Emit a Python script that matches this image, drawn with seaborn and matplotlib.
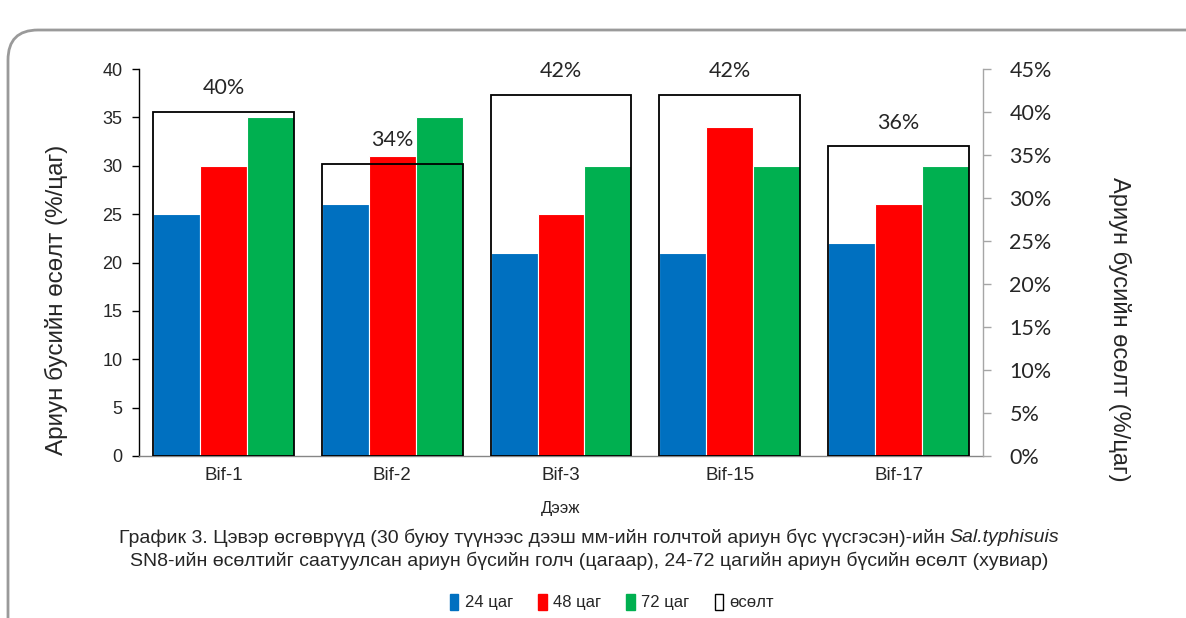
import matplotlib
matplotlib.use("Agg")
import matplotlib.pyplot as plt
from matplotlib.patches import FancyBboxPatch, Patch
from matplotlib.ticker import FuncFormatter, MultipleLocator
import seaborn as sns
import pandas as pd

# Samples and zone measurements
categories = ["Bif-1", "Bif-2", "Bif-3", "Bif-15", "Bif-17"]
series_names = ["24 цаг", "48 цаг", "72 цаг"]
zone_24h = [25, 26, 21, 21, 22]
zone_48h = [30, 31, 25, 34, 26]
zone_72h = [35, 35, 30, 30, 30]
growth_pct = [40, 34, 42, 42, 36]
growth_name = "өсөлт"
colors = ["#0070C0", "#FF0000", "#00B050"]

sns.set_theme(style="white")
plt.rcParams["font.family"] = ["Liberation Sans", "DejaVu Sans"]

df = pd.DataFrame({
    "sample": categories * 3,
    "series": sum([[s] * len(categories) for s in series_names], []),
    "value": zone_24h + zone_48h + zone_72h,
})
gdf = pd.DataFrame({"sample": categories, "growth": growth_pct})

W, H = 1186, 618
fig = plt.figure(figsize=(W / 100, H / 100), dpi=100)
fig.patch.set_facecolor("white")

# rounded frame around the whole chart (pixel coordinates)
frame = FancyBboxPatch((8, -100), W + 200, H - 30 + 100,
                       boxstyle="round,pad=0,rounding_size=30",
                       transform=None, fill=False,
                       edgecolor="#9A9A9A", linewidth=2)
fig.add_artist(frame)

ax = fig.add_axes([139 / W, 1 - 456 / H, (983 - 139) / W, (456 - 69) / H])
width = 0.834
sns.barplot(data=df, x="sample", y="value", hue="series", order=categories,
            hue_order=series_names, palette=colors, width=width, gap=0,
            edgecolor="white", linewidth=0.8, saturation=1, ax=ax, legend=False)
ax.set_ylim(0, 40)
ax.set_xlim(-0.5, len(categories) - 0.5)
ax.yaxis.set_major_locator(MultipleLocator(5))
ax.set_xlabel("Дээж", fontsize=12)
ax.xaxis.set_label_coords(0.5, -(508 - 456) / (456 - 69))
ax.xaxis.label.set_verticalalignment("center")
ax.set_ylabel("Ариун бусийн өсөлт (%/цаг)", fontsize=17.5)
ax.yaxis.set_label_coords((68 - 139) / 844, (456 - 300) / 387)
ax.tick_params(axis="y", which="major", direction="out", length=5, width=1,
               color="black", labelsize=13, left=True, pad=7)
ax.tick_params(axis="x", length=0, labelsize=13.5, pad=8)
for s in ["top", "right"]:
    ax.spines[s].set_visible(False)
ax.spines["left"].set_color("black")
ax.spines["left"].set_linewidth(1)
ax.spines["bottom"].set_color("#868686")
ax.spines["bottom"].set_linewidth(1)

ax2 = ax.twinx()
sns.barplot(data=gdf, x="sample", y="growth", order=categories, width=width,
            fill=False, color="black", linewidth=1.3, ax=ax2)
for p in ax2.patches:
    p.set_edgecolor("black")
    p.set_facecolor("none")
ax2.set_ylim(0, 45)
ax2.yaxis.set_major_locator(MultipleLocator(5))
ax2.yaxis.set_major_formatter(FuncFormatter(lambda v, _: f"{v:.0f}%"))
ax2.set_ylabel("Ариун бусийн өсөлт (%/цаг)", fontsize=17, rotation=270)
ax2.yaxis.set_label_coords((1131 - 139) / 844, (456 - 329) / 387)
ax2.tick_params(axis="y", direction="out", length=6, width=1, color="#A6A6A6",
                right=True, pad=13)
for lab in ax2.get_yticklabels():
    lab.set_fontsize(15.5)
    lab.set_family(["Lato", "DejaVu Sans"])
for s in ["top", "left", "bottom"]:
    ax2.spines[s].set_visible(False)
ax2.spines["right"].set_color("#A6A6A6")
ax2.spines["right"].set_linewidth(1)

ax2.bar_label(ax2.containers[0], labels=[f"{v}%" for v in growth_pct],
              padding=10, fontsize=15.5, family=["Lato", "DejaVu Sans"])

# caption with italic species name
line1a = "График 3. Цэвэр өсгөврүүд (30 буюу түүнээс дээш мм-ийн голчтой ариун бүс үүсгэсэн)-ийн "
line1b = "Sal.typhisuis"
line2 = "SN8-ийн өсөлтийг саатуулсан ариун бүсийн голч (цагаар), 24-72 цагийн ариун бүсийн өсөлт (хувиар)"
cx = 589 / W
cap_size = 14
t1a = fig.text(0, 1 - 538 / H, line1a, fontsize=cap_size, ha="left", va="center")
t1b = fig.text(0, 1 - 538 / H, line1b, fontsize=cap_size, style="italic",
               ha="left", va="center")
fig.text(cx, 1 - 561 / H, line2, fontsize=cap_size, ha="center", va="center")
fig.canvas.draw()
r = fig.canvas.get_renderer()
wa = t1a.get_window_extent(r).width / fig.bbox.width
wb = t1b.get_window_extent(r).width / fig.bbox.width
x0 = cx - (wa + wb) / 2
t1a.set_x(x0)
t1b.set_x(x0 + wa)

handles = [Patch(facecolor=c, edgecolor=c) for c in colors]
handles.append(Patch(facecolor="white", edgecolor="black", linewidth=1))
fig.legend(handles, series_names + [growth_name], loc="center",
           bbox_to_anchor=(612 / W, 1 - 602 / H), ncol=4, frameon=False,
           handlelength=0.5, handleheight=1.1, handletextpad=0.4,
           columnspacing=1.5, prop={"size": 12})

fig.savefig("out.png", dpi=100, facecolor="white")
